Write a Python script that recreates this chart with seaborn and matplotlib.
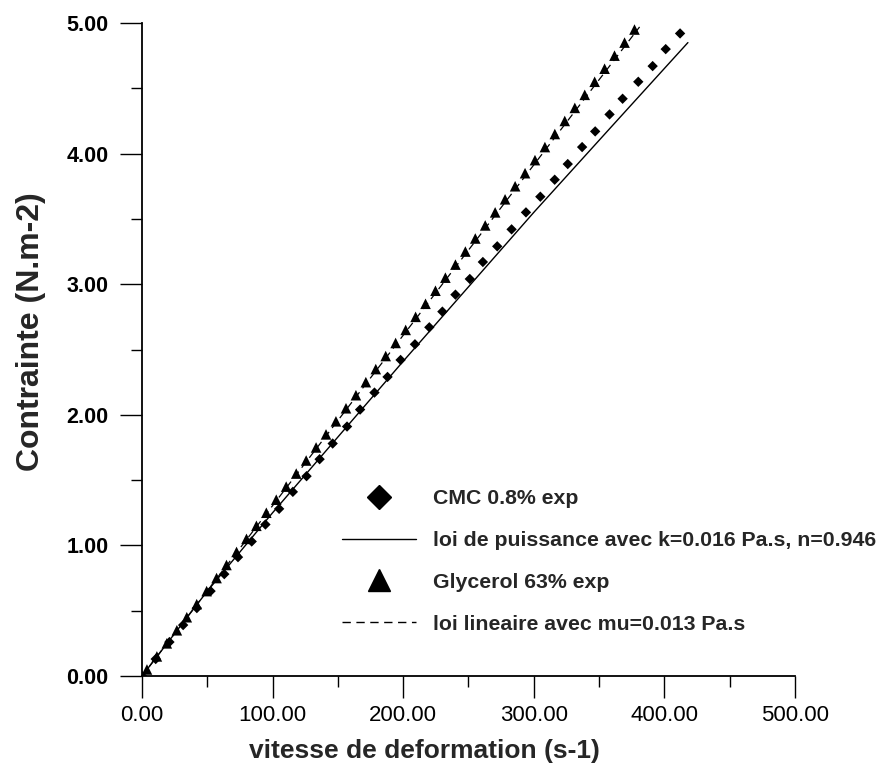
import matplotlib
matplotlib.use("Agg")
import matplotlib.pyplot as plt
from matplotlib.lines import Line2D
from matplotlib.ticker import MultipleLocator, FormatStrFormatter
import seaborn as sns
import pandas as pd

# ---- data ----
cmc_rate = [0, 10.5, 21, 31.5, 42, 52.5, 63, 73.5, 84, 94.5, 105, 115.5, 126, 136,
            146, 157, 167, 178, 188, 198, 209, 220, 230, 240, 251, 261, 272, 283,
            294, 305, 316, 326, 337, 347, 358, 368, 380, 391, 401, 412]
cmc_stress = [0, 0.13, 0.26, 0.39, 0.52, 0.65, 0.78, 0.91, 1.03, 1.16, 1.28, 1.41,
              1.53, 1.66, 1.78, 1.91, 2.04, 2.17, 2.29, 2.42, 2.54, 2.67, 2.79, 2.92,
              3.04, 3.17, 3.29, 3.42, 3.55, 3.67, 3.80, 3.92, 4.05, 4.17, 4.30, 4.42,
              4.55, 4.67, 4.80, 4.92]

gly_rate = [3.8, 11.4, 19.0, 26.7, 34.3, 41.9, 49.5, 57.1, 64.7, 72.4, 80.0, 87.6,
            95.2, 102.8, 110.4, 118.1, 125.7, 133.3, 140.9, 148.5, 156.2, 163.8,
            171.4, 179.0, 186.6, 194.2, 201.9, 209.5, 217.1, 224.7, 232.3, 240.0,
            247.6, 255.2, 262.8, 270.4, 278.0, 285.7, 293.3, 300.9, 308.5, 316.1,
            323.7, 331.4, 339.0, 346.6, 354.2, 361.8, 369.5, 377.1]
gly_stress = [0.05, 0.15, 0.25, 0.35, 0.45, 0.55, 0.65, 0.75, 0.85, 0.95, 1.05, 1.15,
              1.25, 1.35, 1.45, 1.55, 1.65, 1.75, 1.85, 1.95, 2.05, 2.15, 2.25, 2.35,
              2.45, 2.55, 2.65, 2.75, 2.85, 2.95, 3.05, 3.15, 3.25, 3.35, 3.45, 3.55,
              3.65, 3.75, 3.85, 3.95, 4.05, 4.15, 4.25, 4.35, 4.45, 4.55, 4.65, 4.75,
              4.85, 4.95]

power_rate = [0, 50, 100, 150, 200, 250, 300, 358, 418]
power_stress = [0, 0.65, 1.25, 1.83, 2.41, 2.98, 3.55, 4.19, 4.85]

linear_rate = [0, 381]
linear_stress = [0, 4.97]

labels = ["CMC 0.8% exp",
          "loi de puissance avec k=0.016 Pa.s, n=0.946",
          "Glycerol 63% exp",
          "loi lineaire avec mu=0.013 Pa.s"]
x_label = "vitesse de deformation (s-1)"
y_label = "Contrainte (N.m-2)"

# ---- plotting ----
sns.set_theme(style="white")
plt.rcParams["font.family"] = ["Liberation Sans", "DejaVu Sans"]

fig = plt.figure(figsize=(8.78, 7.65), dpi=100)
ax = fig.add_axes([142 / 878, 1 - 676 / 765, 653 / 878, 653 / 765])

df_cmc = pd.DataFrame({"x": cmc_rate, "y": cmc_stress})
df_gly = pd.DataFrame({"x": gly_rate, "y": gly_stress})
df_pow = pd.DataFrame({"x": power_rate, "y": power_stress})
df_lin = pd.DataFrame({"x": linear_rate, "y": linear_stress})

sns.scatterplot(data=df_cmc, x="x", y="y", marker="D", s=28, color="black",
                edgecolor="none", ax=ax, zorder=3, legend=False)
sns.scatterplot(data=df_gly, x="x", y="y", marker="^", s=58, color="black",
                edgecolor="none", ax=ax, zorder=3, legend=False)
sns.lineplot(data=df_pow, x="x", y="y", color="black", lw=1.0, sort=False,
             estimator=None, ax=ax, zorder=4, legend=False)
sns.lineplot(data=df_lin, x="x", y="y", color="black", lw=0.9, sort=False,
             estimator=None, ax=ax, zorder=4, legend=False, linestyle=(0, (6, 4)))

ax.set_xlim(0, 500)
ax.set_ylim(0, 5)
ax.xaxis.set_major_locator(MultipleLocator(100))
ax.xaxis.set_minor_locator(MultipleLocator(50))
ax.yaxis.set_major_locator(MultipleLocator(1))
ax.yaxis.set_minor_locator(MultipleLocator(0.5))
ax.xaxis.set_major_formatter(FormatStrFormatter("%.2f"))
ax.yaxis.set_major_formatter(FormatStrFormatter("%.2f"))

for s in ["top", "right"]:
    ax.spines[s].set_visible(False)
for s in ["left", "bottom"]:
    ax.spines[s].set_color("black")
    ax.spines[s].set_linewidth(1.3)

ax.tick_params(axis="both", which="both", bottom=True, left=True, top=False,
               right=False, direction="out", color="black")
ax.tick_params(axis="both", which="major", length=16, width=1.0,
               labelcolor="black")
ax.tick_params(axis="both", which="minor", length=8, width=1.0)
ax.tick_params(axis="x", which="major", labelsize=16, pad=5)
ax.tick_params(axis="y", which="major", labelsize=15.5, pad=8)
for lab in ax.get_yticklabels():
    lab.set_fontweight("bold")

ax.set_xlabel(x_label, fontsize=19, fontweight="bold")
ax.set_ylabel(y_label, fontsize=23, fontweight="bold")
ax.xaxis.set_label_coords(0.432, -0.096)
ax.yaxis.set_label_coords(-0.147, 0.528)
ax.grid(False)

handles = [
    Line2D([], [], marker="D", color="black", linestyle="none", markersize=12),
    Line2D([], [], color="black", lw=1.0),
    Line2D([], [], marker="^", color="black", linestyle="none", markersize=16),
    Line2D([], [], color="black", lw=1.0, linestyle=(0, (6, 4))),
]
leg = ax.legend(handles, labels, loc="upper left",
                bbox_to_anchor=(342 / 878, 1 - 489 / 765),
                bbox_transform=fig.transFigure, frameon=False,
                prop={"weight": "bold", "size": 15.3}, handlelength=3.5,
                handletextpad=0.8, labelspacing=1.08, borderpad=0,
                borderaxespad=0)

fig.savefig("out.png", dpi=100)
